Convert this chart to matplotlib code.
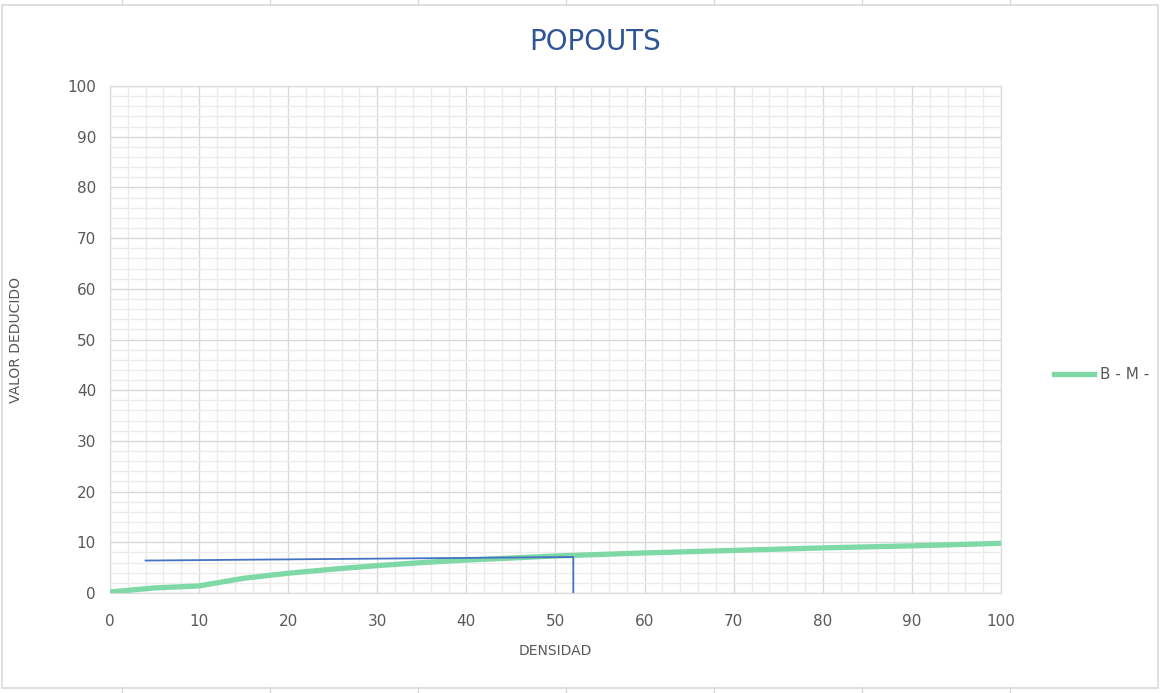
import numpy as np
import matplotlib.pyplot as plt
from matplotlib.patches import Rectangle
from matplotlib.lines import Line2D

# Curve data
densidad = [0, 5, 10, 15, 20, 25, 30, 35, 40, 45, 50, 60, 70, 80, 90, 100]
valor_deducido = [0.2, 1.0, 1.4, 2.9, 3.9, 4.7, 5.4, 6.0, 6.5, 6.9, 7.3, 7.9, 8.4, 8.9, 9.3, 9.8]

# Reading guide lines
guide_x = [4, 52, 52]
guide_y = [6.4, 7.1, 0]

series_name = "B - M -"
title = "POPOUTS"

fig = plt.figure(figsize=(11.61, 6.93), dpi=100)
ax = fig.add_axes([0.0947, 0.1443, 0.7675, 0.7316])

ax.set_xlim(0, 100)
ax.set_ylim(0, 100)
ax.set_xticks(np.arange(0, 101, 10))
ax.set_yticks(np.arange(0, 101, 10))
ax.set_xticks(np.arange(0, 101, 2), minor=True)
ax.set_yticks(np.arange(0, 101, 2), minor=True)
ax.grid(which="major", color="#d9d9d9", linewidth=1.0)
ax.grid(which="minor", color="#ebebeb", linewidth=1.0)
ax.set_axisbelow(True)
for s in ax.spines.values():
    s.set_color("#d9d9d9")
ax.tick_params(which="both", length=0, colors="#595959", labelsize=11)
ax.tick_params(axis="x", pad=15)
ax.tick_params(axis="y", pad=10)

ax.plot(densidad, valor_deducido, color="#7fd9a6", linewidth=3.8, solid_capstyle="round", zorder=3)
ax.plot(guide_x, guide_y, color="#4472c4", linewidth=1.3, zorder=4)

ax.set_xlabel("DENSIDAD", color="#595959", fontsize=10, labelpad=11)
ax.set_ylabel("VALOR DEDUCIDO", color="#595959", fontsize=10)
ax.yaxis.set_label_coords(-0.098, 0.5)
fig.text(0.513, 0.94, title, color="#2f5597", fontsize=20, ha="center", va="center")

# Legend
leg_handle = Line2D([0], [0], color="#7fd9a6", linewidth=3.8)
fig.legend([leg_handle], [series_name], loc="center left", bbox_to_anchor=(0.896, 0.459),
           frameon=False, fontsize=11, labelcolor="#595959", handlelength=2.6, handletextpad=0.4)

# Chart area border
fig.patches.append(Rectangle((0.002, 0.007), 0.995, 0.986, transform=fig.transFigure,
                             fill=False, edgecolor="#d9d9d9", linewidth=1.2))

# Spreadsheet cell borders peeking out above and below the chart
for xc in [122, 270, 418, 566, 714, 862, 1010]:
    fig.add_artist(Line2D([xc / 1161, xc / 1161], [0.993, 1.0], transform=fig.transFigure,
                          color="#d9d9d9", linewidth=1.0))
    fig.add_artist(Line2D([xc / 1161, xc / 1161], [0.0, 0.007], transform=fig.transFigure,
                          color="#d9d9d9", linewidth=1.0))

fig.savefig("out.png", dpi=100)
